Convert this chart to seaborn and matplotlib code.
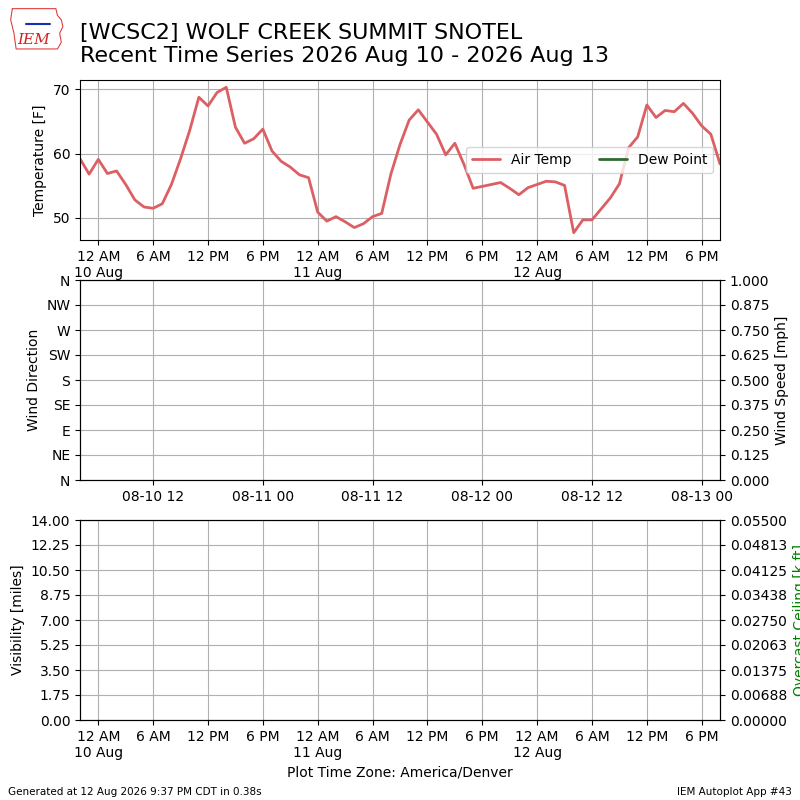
import pandas as pd
import numpy as np
import matplotlib
matplotlib.use("Agg")
import matplotlib.pyplot as plt
import matplotlib.dates as mdates
from matplotlib.ticker import FuncFormatter, FixedLocator, FormatStrFormatter
import seaborn as sns

# Hourly observations, local time (America/Denver), 9 Aug 22:00 -> 12 Aug 20:00
start_time = "2026-08-09 22:00"
air_temp = [
    59.2, 56.8,
    59.1, 56.9, 57.3, 55.2, 52.8, 51.7, 51.5, 52.2, 55.2, 59.2, 63.6, 68.75,
    67.4, 69.5, 70.3, 64.1, 61.6, 62.3, 63.8, 60.4, 58.8, 57.9, 56.7, 56.25,
    50.9, 49.5, 50.2, 49.4, 48.5, 49.1, 50.2, 50.7, 56.8, 61.4, 65.2, 66.8,
    64.9, 63.0, 59.8, 61.6, 58.3, 54.6, 54.9, 55.2, 55.5, 54.6, 53.6, 54.7,
    55.2, 55.7, 55.6, 55.05, 47.7, 49.7, 49.7, 51.4, 53.1, 55.3, 60.9, 62.6,
    67.55, 65.6, 66.7, 66.5, 67.8, 66.25, 64.3, 63.0, 58.4,
]
dew_point = []  # no dew point reported

wind_dir_ticks = [0, 45, 90, 135, 180, 225, 270, 315, 360]
wind_dir_labels = ["N", "NE", "E", "SE", "S", "SW", "W", "NW", "N"]
utc_offset_hours = 6  # MDT -> UTC

times = pd.date_range(start_time, periods=len(air_temp), freq="h")
df = pd.DataFrame({"valid": times, "tmpf": air_temp})

sns.set_style("ticks", rc={
    "axes.edgecolor": "black", "axes.labelcolor": "black",
    "xtick.color": "black", "ytick.color": "black", "text.color": "black",
    "grid.color": "#b0b0b0", "grid.linewidth": 0.8,
})
plt.rcParams["font.family"] = ["DejaVu Sans"]

fig = plt.figure(figsize=(8, 8), dpi=100)
ax1 = fig.add_axes([0.1, 0.7, 0.8, 0.2])
ax2 = fig.add_axes([0.1, 0.4, 0.8, 0.25])
ax3 = fig.add_axes([0.1, 0.1, 0.8, 0.25])


def local_fmt(x, pos=None):
    d = mdates.num2date(x)
    if d.hour == 0:
        return d.strftime("12 AM\n%-d %b")
    h = d.hour % 12
    h = 12 if h == 0 else h
    return f"{h} {'AM' if d.hour < 12 else 'PM'}"


def utc_fmt(x, pos=None):
    d = mdates.num2date(x) + pd.Timedelta(hours=utc_offset_hours)
    return d.strftime("%m-%d %H")


# Temperature panel
sns.lineplot(data=df, x="valid", y="tmpf", ax=ax1, color="#dc5f64",
             linewidth=2, label="Air Temp")
ax1.plot(pd.to_datetime(dew_point), dew_point, color="#2f6b30",
         linewidth=2, label="Dew Point")
ax1.set_xlim(times[0], times[-1])
ax1.set_yticks([50, 60, 70])
ax1.set_ylabel("Temperature [F]")
ax1.set_xlabel("")
ax1.grid(True)
ax1.legend(loc="center right", ncol=2)

for ax in (ax1, ax3):
    ax.xaxis.set_major_locator(mdates.HourLocator(byhour=[0, 6, 12, 18]))
    ax.xaxis.set_major_formatter(FuncFormatter(local_fmt))

# Wind panel
ax2.set_xlim(times[0], times[-1])
ax2.set_ylim(0, 360)
ax2.yaxis.set_major_locator(FixedLocator(wind_dir_ticks))
ax2.set_yticklabels(wind_dir_labels)
ax2.set_ylabel("Wind Direction")
ax2.xaxis.set_major_locator(mdates.HourLocator(byhour=[6, 18]))
ax2.xaxis.set_major_formatter(FuncFormatter(utc_fmt))
ax2.grid(True)
ax2b = ax2.twinx()
ax2b.set_ylim(0, 1)
ax2b.set_yticks(np.arange(0, 1.0001, 0.125))
ax2b.yaxis.set_major_formatter(FormatStrFormatter("%.3f"))
ax2b.set_ylabel("Wind Speed [mph]")

# Visibility / ceiling panel
ax3.set_xlim(times[0], times[-1])
ax3.set_ylim(0, 14)
ax3.set_yticks(np.arange(0, 14.001, 1.75))
ax3.yaxis.set_major_formatter(FormatStrFormatter("%.2f"))
ax3.set_ylabel("Visibility [miles]")
ax3.set_xlabel("Plot Time Zone: America/Denver")
ax3.grid(True)
ax3b = ax3.twinx()
ax3b.set_ylim(0, 0.055)
ax3b.set_yticks(np.arange(0, 0.0550001, 0.006875))
ax3b.yaxis.set_major_formatter(FormatStrFormatter("%.5f"))
ax3b.set_ylabel("Overcast Ceiling [k ft]", color="green")

# Title and footer
fig.text(0.1, 0.917, "[WCSC2] WOLF CREEK SUMMIT SNOTEL\n"
         "Recent Time Series 2026 Aug 10 - 2026 Aug 13",
         fontsize=16, va="bottom", ha="left")
fig.text(0.01, 0.006, "Generated at 12 Aug 2026 9:37 PM CDT in 0.38s", fontsize=7.5)
fig.text(0.99, 0.006, "IEM Autoplot App #43", fontsize=7.5, ha="right")

# simple IEM logo
logo = fig.add_axes([0.012, 0.936, 0.068, 0.056])
logo.set_xlim(0, 1)
logo.set_ylim(0, 1)
logo.axis("off")
outline_x = [0.05, 0.85, 0.88, 0.95, 0.98, 0.92, 0.95, 0.88, 0.12, 0.08, 0.02, 0.05]
outline_y = [0.95, 0.95, 0.8, 0.7, 0.55, 0.4, 0.2, 0.05, 0.05, 0.4, 0.7, 0.95]
logo.plot(outline_x, outline_y, color="#e04040", linewidth=0.8)
logo.plot([0.3, 0.75], [0.6, 0.6], color="#1a2fb0", linewidth=1.5)
logo.text(0.45, 0.25, "IEM", color="#d42020", fontsize=11, ha="center",
          va="center", family="DejaVu Serif", style="italic")

fig.savefig("out.png", dpi=100)
